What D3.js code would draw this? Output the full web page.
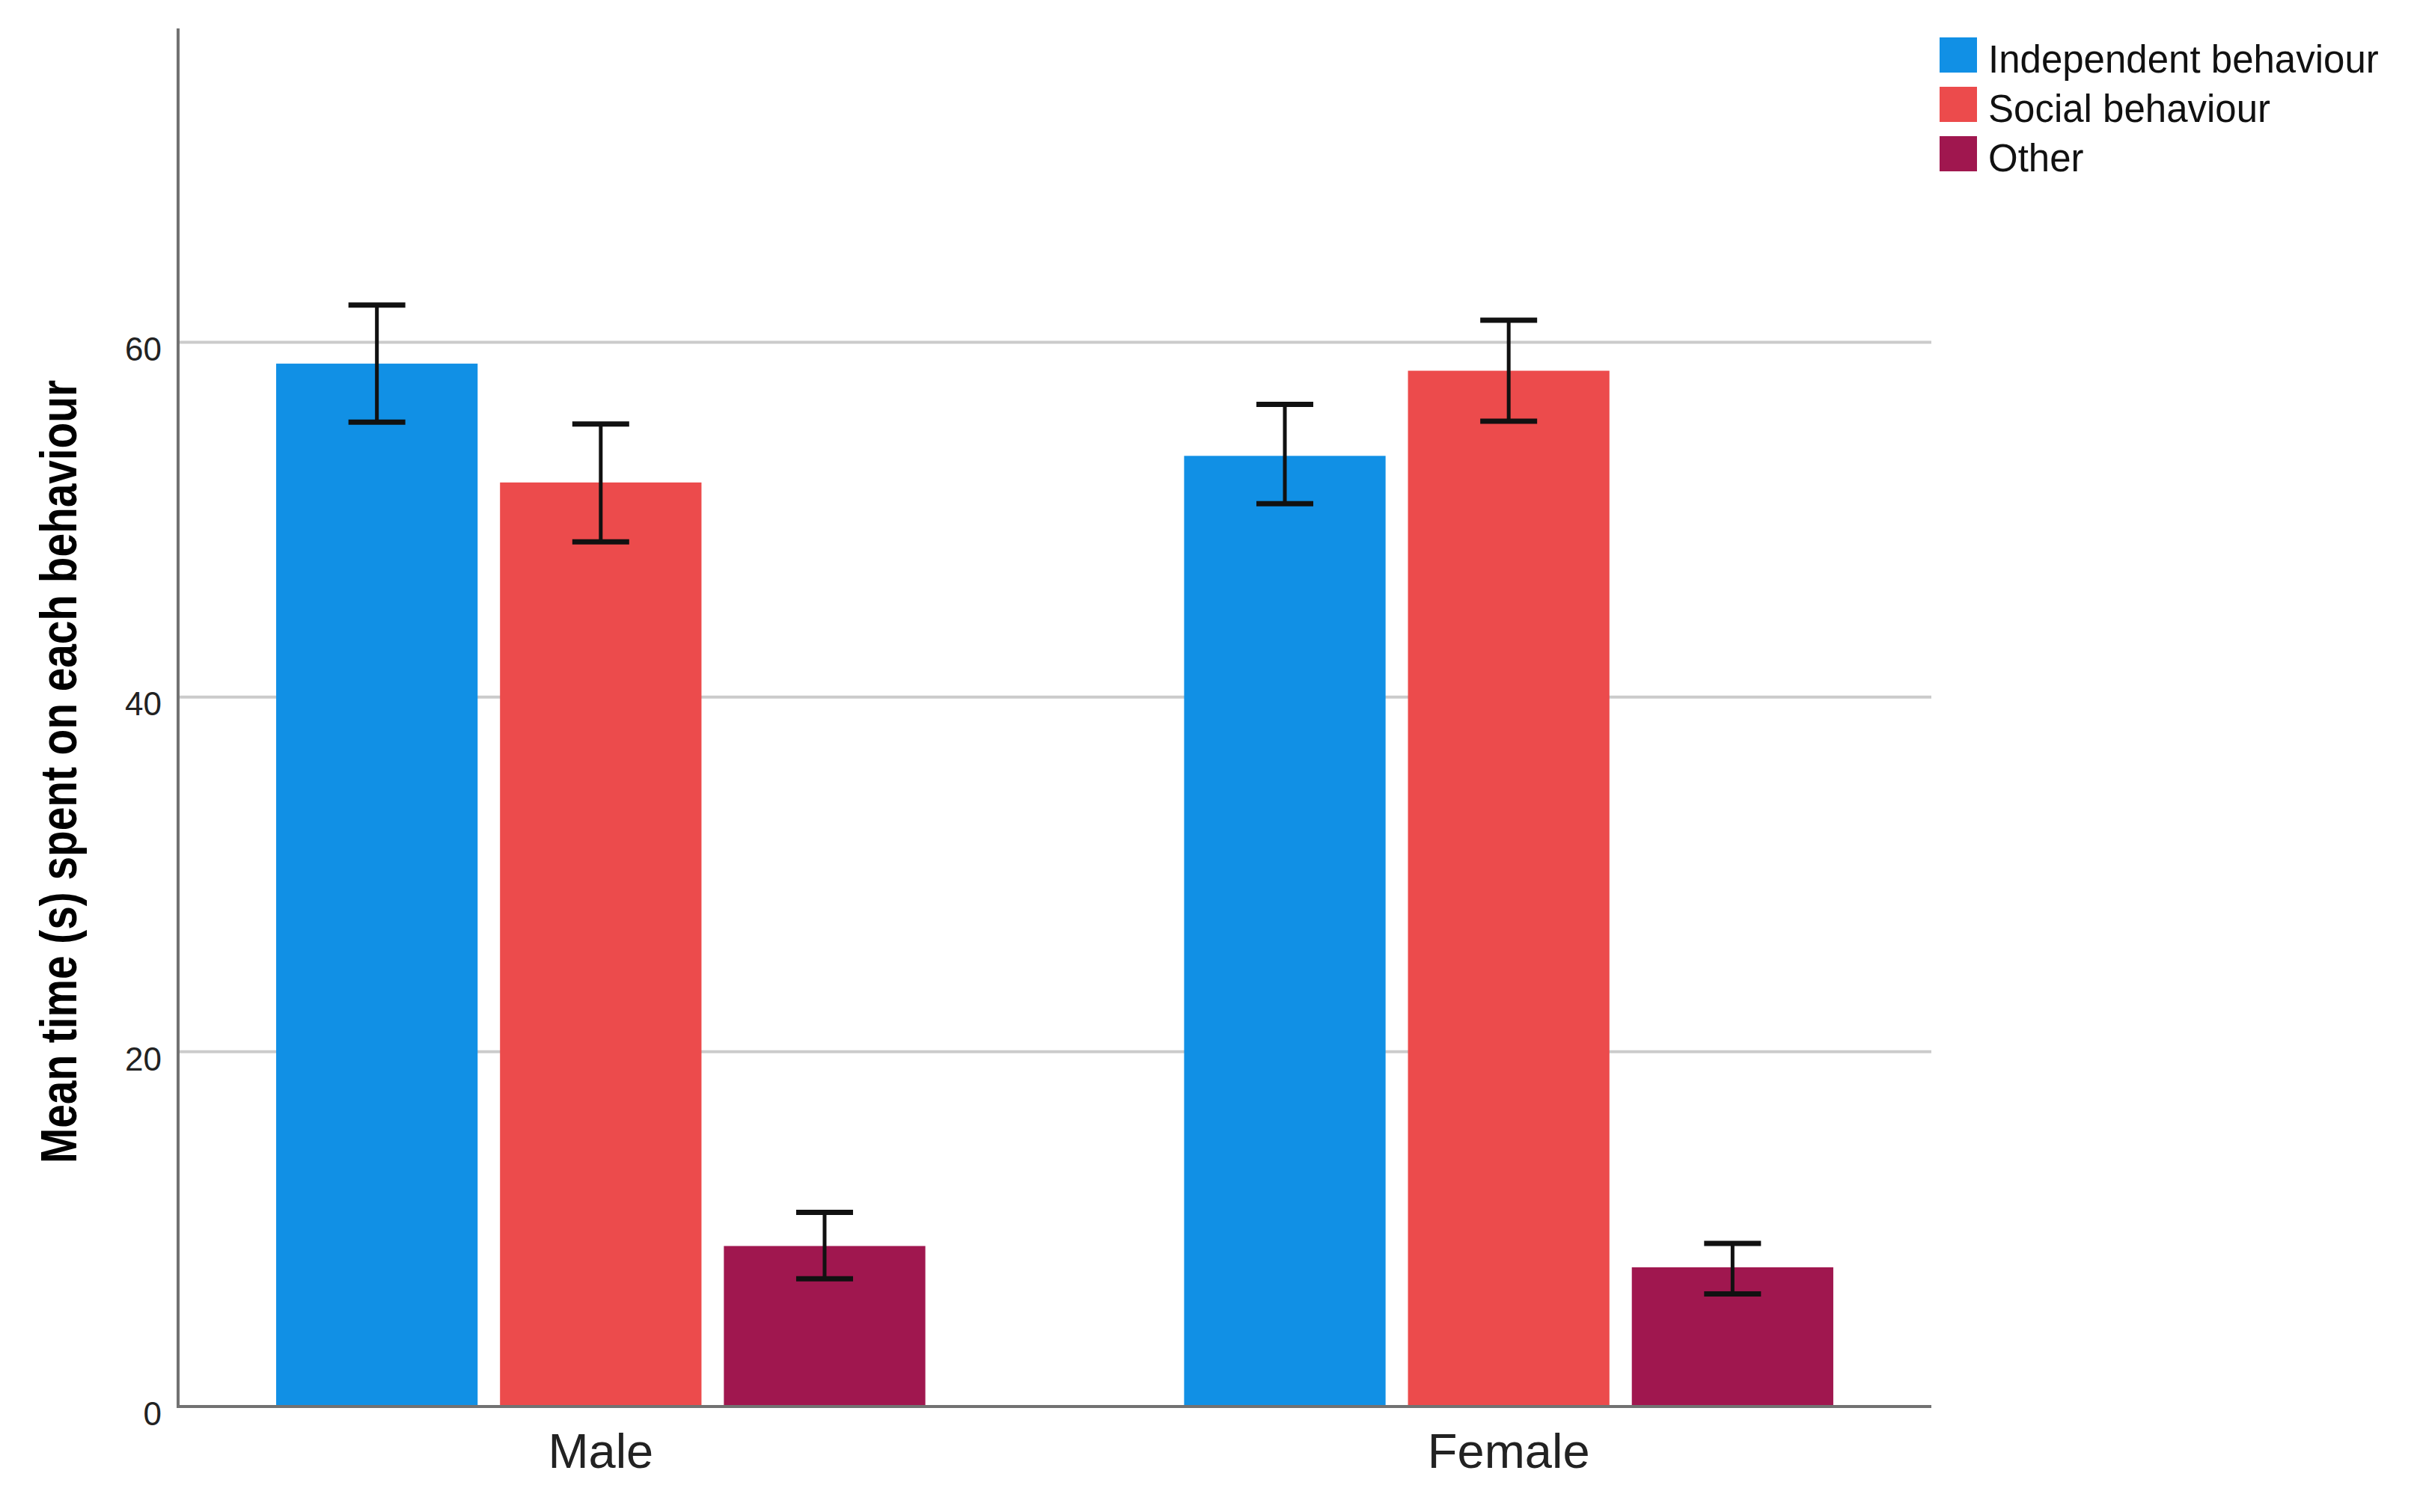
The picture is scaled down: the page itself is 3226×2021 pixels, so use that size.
<!DOCTYPE html>
<html>
<head>
<meta charset="utf-8">
<script src="https://cdn.jsdelivr.net/npm/d3@7"></script>
<style>
  html, body { margin: 0; padding: 0; background: #ffffff; }
  svg { display: block; }
</style>
</head>
<body>
<svg id="chart" width="3226" height="2021"></svg>
<script>
// ---- data ----
const categories = ["Male", "Female"];
const seriesNames = ["Independent behaviour", "Social behaviour", "Other"];
const seriesColors = ["#1190e5", "#ec4b4c", "#a0174f"];
const meanMale = [58.8, 52.1, 9.05];
const meanFemale = [53.6, 58.4, 7.85];
const lowMale = [55.5, 48.75, 7.2];
const highMale = [62.1, 55.4, 10.95];
const lowFemale = [50.9, 55.55, 6.35];
const highFemale = [56.5, 61.25, 9.2];
const yTicks = [0, 20, 40, 60];
const yTitle = "Mean time (s) spent on each behaviour";

const rows = [
  { cat: "Male", means: meanMale, lows: lowMale, highs: highMale },
  { cat: "Female", means: meanFemale, lows: lowFemale, highs: highFemale }
];

// ---- layout ----
const svg = d3.select("#chart");
const plotLeft = 238, plotRight = 2581, plotBottom = 1880, plotTop = 38;
const font = "'Liberation Sans', Arial, sans-serif";

const y = d3.scaleLinear().domain([0, 77.7]).range([plotBottom, plotTop]);
const x0 = d3.scaleBand().domain(categories).range([plotLeft, plotRight])
  .paddingInner(0.285).paddingOuter(0.108);
const x1 = d3.scaleBand().domain(seriesNames).range([0, x0.bandwidth()])
  .paddingInner(0.1).paddingOuter(0);
const color = d3.scaleOrdinal().domain(seriesNames).range(seriesColors);

// gridlines
svg.append("g").selectAll("line").data(yTicks.filter(d => d > 0)).join("line")
  .attr("x1", plotLeft).attr("x2", plotRight)
  .attr("y1", d => y(d)).attr("y2", d => y(d))
  .attr("stroke", "#cbcbcb").attr("stroke-width", 4);

// y axis (labels only, custom line)
const yAxis = d3.axisLeft(y).tickValues(yTicks).tickSize(0).tickPadding(22);
const yg = svg.append("g").attr("transform", `translate(${plotLeft},0)`).call(yAxis);
yg.select(".domain").remove();
yg.selectAll("text")
  .attr("font-family", font).attr("font-size", 44).attr("fill", "#222")
  .attr("dy", "0.55em");

// bars
const groups = svg.append("g").selectAll("g").data(rows).join("g")
  .attr("transform", d => `translate(${x0(d.cat)},0)`);

groups.selectAll("rect").data(d => d.means.map((v, i) => ({ s: seriesNames[i], v })))
  .join("rect")
  .attr("x", d => x1(d.s)).attr("width", x1.bandwidth())
  .attr("y", d => y(d.v)).attr("height", d => y(0) - y(d.v))
  .attr("fill", d => color(d.s));

// error bars
const capHalf = 38;
const eb = groups.selectAll("g.err").data(d => d.means.map((v, i) => ({ s: seriesNames[i], lo: d.lows[i], hi: d.highs[i] })))
  .join("g").attr("class", "err")
  .attr("transform", d => `translate(${x1(d.s) + x1.bandwidth() / 2},0)`);
eb.append("line").attr("x1", 0).attr("x2", 0)
  .attr("y1", d => y(d.hi)).attr("y2", d => y(d.lo))
  .attr("stroke", "#111").attr("stroke-width", 5);
eb.append("line").attr("x1", -capHalf).attr("x2", capHalf)
  .attr("y1", d => y(d.hi)).attr("y2", d => y(d.hi))
  .attr("stroke", "#111").attr("stroke-width", 7);
eb.append("line").attr("x1", -capHalf).attr("x2", capHalf)
  .attr("y1", d => y(d.lo)).attr("y2", d => y(d.lo))
  .attr("stroke", "#111").attr("stroke-width", 7);

// axis lines
svg.append("path")
  .attr("d", `M${plotLeft},${plotTop}V${plotBottom}H${plotRight}`)
  .attr("fill", "none").attr("stroke", "#727272").attr("stroke-width", 4);

// x axis labels
const xAxis = d3.axisBottom(x0).tickSize(0).tickPadding(36);
const xg = svg.append("g").attr("transform", `translate(0,${plotBottom})`).call(xAxis);
xg.select(".domain").remove();
xg.selectAll("text")
  .attr("font-family", font).attr("font-size", 65).attr("fill", "#222");

// y title
svg.append("text")
  .attr("transform", `translate(102,${(508 + 1555) / 2}) rotate(-90)`)
  .attr("text-anchor", "middle")
  .attr("font-family", font).attr("font-weight", "bold").attr("font-size", 68)
  .attr("textLength", 1047).attr("lengthAdjust", "spacingAndGlyphs")
  .attr("fill", "#000")
  .text(yTitle);

// legend
const legend = svg.append("g").attr("transform", "translate(2592,50)");
const li = legend.selectAll("g").data(seriesNames).join("g")
  .attr("transform", (d, i) => `translate(0,${i * 66})`);
li.append("rect").attr("width", 50).attr("height", 47).attr("fill", d => color(d));
li.append("text").attr("x", 65).attr("y", 47)
  .attr("font-family", font).attr("font-size", 51).attr("fill", "#111")
  .text(d => d);
</script>
</body>
</html>
